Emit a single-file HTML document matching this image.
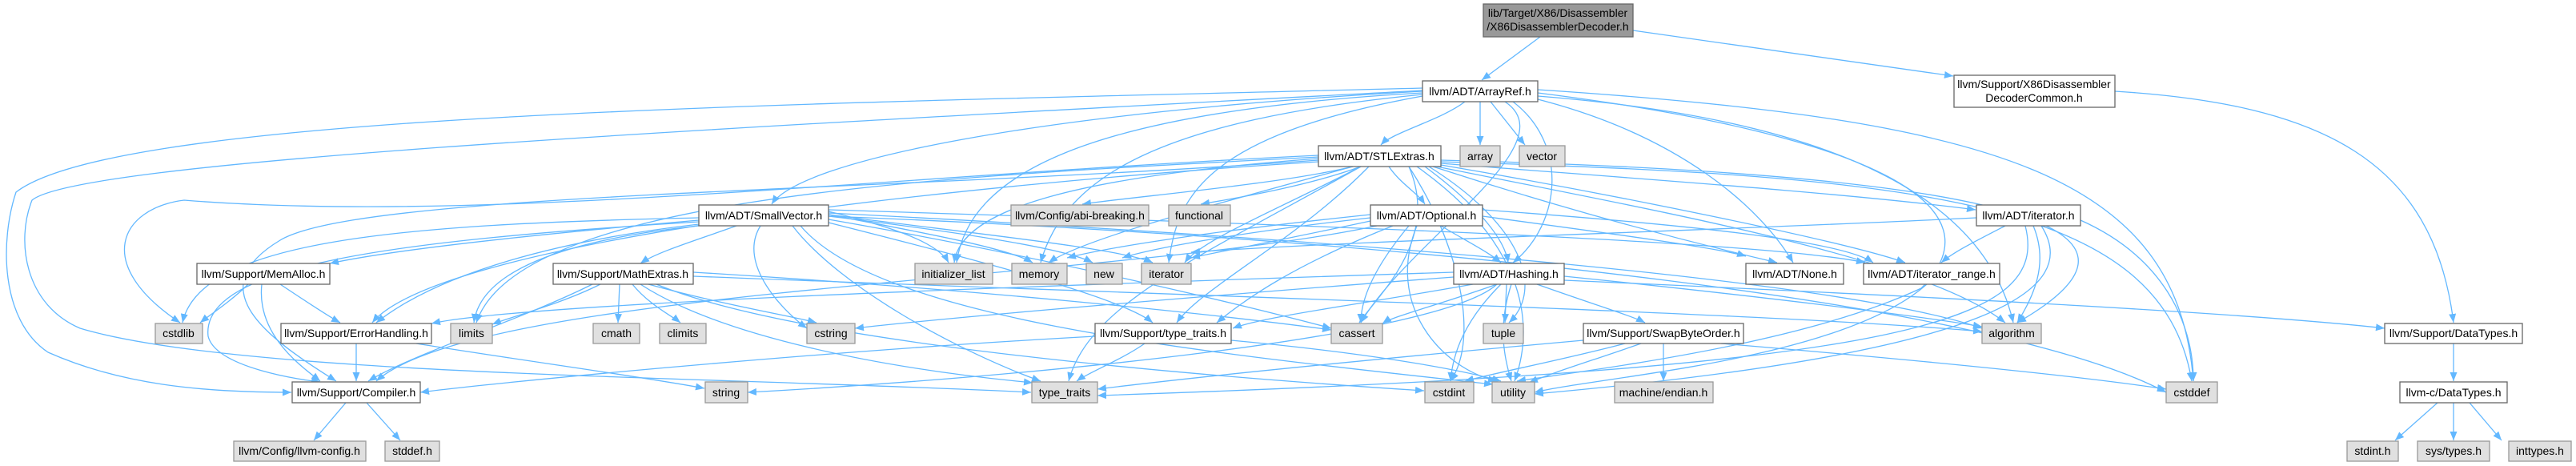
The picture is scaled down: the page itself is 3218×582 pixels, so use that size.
<!DOCTYPE html>
<html><head><meta charset="utf-8"><style>
html,body{margin:0;padding:0;background:#fff;}
svg{display:block;}
text{font-family:"Liberation Sans",Arial,sans-serif;font-size:14px;fill:#000;text-anchor:middle;}
.e{fill:none;stroke:#63b8ff;stroke-width:1.3;marker-end:url(#a);}
.w{fill:#fff;stroke:#666;stroke-width:1.3;}
.g{fill:#e0e0e0;stroke:#999;stroke-width:1.3;}
.r{fill:#999;stroke:#666;stroke-width:1.3;}
</style></head><body>
<svg width="3218" height="582" viewBox="0 0 3218 582" xmlns="http://www.w3.org/2000/svg">
<defs><marker id="a" markerWidth="12" markerHeight="10" refX="11" refY="4.5" orient="auto" markerUnits="userSpaceOnUse"><path d="M0,0 L11,4.5 L0,9 z" fill="#63b8ff"/></marker></defs>
<g>
<!-- root -->
<path class="e" d="M1924,46 L1851,100"/>
<path class="e" d="M2040,38 L2440,95"/>
<path class="e" d="M2642,114 C2900,130 3040,200 3065,403"/>
<!-- ArrayRef -->
<path class="e" d="M1830,127 C1800,150 1740,165 1725,181"/>
<path class="e" d="M1849,127 L1849,181"/>
<path class="e" d="M1862,127 L1905,181"/>
<path class="e" d="M1777,114 C1300,140 1000,200 964,255"/>
<path class="e" d="M1890,127 C1960,180 1950,280 1890,328"/>
<path class="e" d="M1880,127 C1960,180 1760,300 1700,403"/>
<path class="e" d="M1777,118 C1450,150 1330,220 1300,328"/>
<path class="e" d="M1777,116 C1350,140 1210,220 1195,328"/>
<path class="e" d="M1777,120 C1500,170 1470,250 1460,328"/>
<path class="e" d="M1921,120 C2300,150 2480,250 2515,403"/>
<path class="e" d="M1921,124 C2100,170 2200,260 2240,328"/>
<path class="e" d="M1921,112 C2500,150 2720,220 2740,476"/>
<path class="e" d="M1777,110 C1000,130 150,140 20,240 C0,300 0,400 60,440 C150,480 250,490 364,490"/>
<path class="e" d="M1777,113 C900,160 100,200 40,250 C20,300 30,380 100,410 C300,470 900,470 1288,490"/>
<path class="e" d="M1921,116 C2350,170 2500,260 2400,360 C2250,430 2000,460 1895,476"/>
<!-- STLExtras -->
<path class="e" d="M1690,208 C1600,230 1420,245 1352,255"/>
<path class="e" d="M1700,208 C1640,230 1560,245 1500,255"/>
<path class="e" d="M1735,208 C1750,230 1770,240 1780,255"/>
<path class="e" d="M1800,204 C2000,220 2300,240 2468,262"/>
<path class="e" d="M1780,208 C1850,260 1880,300 1884,328"/>
<path class="e" d="M1800,206 C2000,240 2300,300 2380,328"/>
<path class="e" d="M1790,208 C1950,260 2100,300 2220,328"/>
<path class="e" d="M1795,208 C2050,260 2400,320 2505,403"/>
<path class="e" d="M1760,208 C1800,300 1720,370 1698,403"/>
<path class="e" d="M1800,202 C2400,220 2700,250 2738,476"/>
<path class="e" d="M1760,208 C1820,300 1850,420 1812,476"/>
<path class="e" d="M1647,198 C1350,220 1200,260 1192,328"/>
<path class="e" d="M1700,208 C1600,260 1500,300 1480,328"/>
<path class="e" d="M1647,196 C1200,220 650,240 595,403"/>
<path class="e" d="M1690,208 C1500,260 1350,300 1310,328"/>
<path class="e" d="M1785,208 C1900,280 1930,360 1885,403"/>
<path class="e" d="M1700,208 C1500,320 1360,380 1335,476"/>
<path class="e" d="M1770,208 C1900,300 1920,400 1892,476"/>
<path class="e" d="M1710,208 C1620,300 1500,360 1470,403"/>
<path class="e" d="M1647,202 C1200,230 550,300 465,403"/>
<path class="e" d="M1647,194 C1100,220 600,280 230,250 C150,260 115,330 225,403"/>
<path class="e" d="M1647,200 C1100,240 450,240 350,300 C250,360 330,420 420,476"/>
<path class="e" d="M1800,200 C2600,220 2700,300 2520,403"/>
<!-- SmallVector -->
<path class="e" d="M873,275 C700,290 500,310 412,329"/>
<path class="e" d="M920,282 C870,300 820,315 800,329"/>
<path class="e" d="M873,280 C700,300 550,340 470,403"/>
<path class="e" d="M873,277 C500,300 250,330 260,420 C270,460 380,475 400,477"/>
<path class="e" d="M1035,278 C1200,320 1400,370 1440,403"/>
<path class="e" d="M873,272 C500,280 250,300 228,403"/>
<path class="e" d="M873,282 C700,300 600,340 592,403"/>
<path class="e" d="M950,282 C920,330 980,390 1008,410"/>
<path class="e" d="M1035,274 C1300,320 1550,380 1663,410"/>
<path class="e" d="M1035,266 C1700,300 2300,350 2476,410"/>
<path class="e" d="M1035,270 C1800,300 2500,380 2706,490"/>
<path class="e" d="M1035,264 C1100,280 1170,300 1185,328"/>
<path class="e" d="M1035,268 C1200,290 1400,310 1440,328"/>
<path class="e" d="M1035,268 C1150,290 1260,310 1290,328"/>
<path class="e" d="M1035,270 C1200,290 1330,310 1365,328"/>
<path class="e" d="M990,282 C1050,360 1200,440 1300,476"/>
<path class="e" d="M1000,282 C1100,400 1500,440 1865,480"/>
<path class="e" d="M1035,262 C1600,280 2200,300 2330,328"/>
<!-- MathExtras -->
<path class="e" d="M740,355 C650,400 520,440 460,476"/>
<path class="e" d="M774,355 L772,403"/>
<path class="e" d="M790,355 C810,380 840,395 850,403"/>
<path class="e" d="M810,355 C900,380 990,395 1020,403"/>
<path class="e" d="M750,355 C700,380 640,395 615,405"/>
<path class="e" d="M866,340 C1200,360 1500,390 1663,412"/>
<path class="e" d="M866,345 C1500,370 2200,390 2476,414"/>
<path class="e" d="M820,355 C1000,430 1500,470 1779,488"/>
<path class="e" d="M800,355 C900,420 1100,460 1290,478"/>
<!-- MemAlloc -->
<path class="e" d="M310,355 C290,375 260,395 250,403"/>
<path class="e" d="M350,355 C380,375 410,395 425,403"/>
<path class="e" d="M327,355 C320,420 380,460 400,476"/>
<!-- ErrorHandling -->
<path class="e" d="M445,429 L445,476"/>
<path class="e" d="M520,429 C650,450 800,470 880,485"/>
<!-- Compiler -->
<path class="e" d="M432,503 L392,550"/>
<path class="e" d="M458,503 L500,550"/>
<!-- Optional -->
<path class="e" d="M1800,282 C1830,300 1860,315 1875,328"/>
<path class="e" d="M1852,270 C2000,290 2150,310 2181,320"/>
<path class="e" d="M1740,282 C1620,330 1560,370 1520,403"/>
<path class="e" d="M1720,282 C1400,350 600,360 470,476"/>
<path class="e" d="M1760,282 C1720,330 1700,370 1700,403"/>
<path class="e" d="M1712,268 C1500,290 1380,310 1333,322"/>
<path class="e" d="M1712,272 C1550,290 1440,310 1402,322"/>
<path class="e" d="M1712,276 C1600,300 1520,315 1488,322"/>
<path class="e" d="M1770,282 C1730,380 1800,460 1870,476"/>
<path class="e" d="M1852,262 C2100,280 2300,300 2340,328"/>
<!-- Hashing -->
<path class="e" d="M1816,340 C1200,360 650,380 539,404"/>
<path class="e" d="M1954,350 C2400,370 2800,390 2979,410"/>
<path class="e" d="M1920,355 C1990,380 2040,395 2055,403"/>
<path class="e" d="M1840,355 C1700,380 1580,395 1540,410"/>
<path class="e" d="M1954,345 C2200,370 2400,395 2476,408"/>
<path class="e" d="M1870,355 C1800,380 1740,395 1727,404"/>
<path class="e" d="M1816,346 C1500,370 1200,395 1068,410"/>
<path class="e" d="M1870,355 C1800,420 1300,470 934,490"/>
<path class="e" d="M1882,355 L1880,403"/>
<path class="e" d="M1888,355 C1870,410 1880,450 1888,476"/>
<path class="e" d="M1875,355 C1830,400 1815,440 1812,476"/>
<!-- type_traits.h -->
<path class="e" d="M1368,420 C1000,440 600,480 525,490"/>
<path class="e" d="M1430,429 C1400,450 1360,465 1345,476"/>
<path class="e" d="M1538,425 C1700,440 1820,460 1875,476"/>
<!-- SwapByteOrder -->
<path class="e" d="M2150,429 C2400,450 2600,470 2706,486"/>
<path class="e" d="M2030,429 C1950,450 1870,465 1830,476"/>
<path class="e" d="M1978,425 C1700,450 1500,470 1371,486"/>
<path class="e" d="M2078,429 L2078,476"/>
<path class="e" d="M2050,429 C1990,450 1940,465 1910,478"/>
<!-- iterator.h -->
<path class="e" d="M2505,282 C2470,300 2440,315 2425,328"/>
<path class="e" d="M2469,272 C2100,290 1700,300 1488,315"/>
<path class="e" d="M2540,282 C2560,330 2540,370 2520,403"/>
<path class="e" d="M2599,275 C2700,320 2740,400 2740,476"/>
<path class="e" d="M2530,282 C2560,400 2400,460 1371,494"/>
<path class="e" d="M2550,282 C2600,360 2500,440 1917,492"/>
<!-- iterator_range -->
<path class="e" d="M2407,355 C2300,450 2000,470 1917,490"/>
<!-- DataTypes -->
<path class="e" d="M3065,429 L3065,476"/>
<path class="e" d="M3045,503 L2992,550"/>
<path class="e" d="M3065,503 L3065,550"/>
<path class="e" d="M3085,503 L3125,550"/>
</g>
<!-- nodes -->
<rect class="r" x="1853" y="5" width="187" height="41"/><text x="1946" y="21">lib/Target/X86/Disassembler</text><text x="1946" y="38">/X86DisassemblerDecoder.h</text>
<rect class="w" x="1777" y="101" width="144" height="26"/><text x="1849" y="119">llvm/ADT/ArrayRef.h</text>
<rect class="w" x="2441" y="94" width="201" height="40"/><text x="2541" y="110">llvm/Support/X86Disassembler</text><text x="2541" y="127">DecoderCommon.h</text>
<rect class="w" x="1647" y="182" width="153" height="26"/><text x="1723" y="200">llvm/ADT/STLExtras.h</text>
<rect class="g" x="1824" y="182" width="50" height="26"/><text x="1849" y="200">array</text>
<rect class="g" x="1898" y="182" width="57" height="26"/><text x="1926" y="200">vector</text>
<rect class="w" x="873" y="256" width="162" height="26"/><text x="954" y="274">llvm/ADT/SmallVector.h</text>
<rect class="g" x="1263" y="256" width="172" height="26"/><text x="1349" y="274">llvm/Config/abi-breaking.h</text>
<rect class="g" x="1460" y="256" width="77" height="26"/><text x="1498" y="274">functional</text>
<rect class="w" x="1712" y="256" width="140" height="26"/><text x="1782" y="274">llvm/ADT/Optional.h</text>
<rect class="w" x="2469" y="256" width="130" height="26"/><text x="2534" y="274">llvm/ADT/iterator.h</text>
<rect class="w" x="246" y="329" width="166" height="26"/><text x="329" y="347">llvm/Support/MemAlloc.h</text>
<rect class="w" x="691" y="329" width="175" height="26"/><text x="778" y="347">llvm/Support/MathExtras.h</text>
<rect class="g" x="1143" y="329" width="97" height="26"/><text x="1191" y="347">initializer_list</text>
<rect class="g" x="1264" y="329" width="69" height="26"/><text x="1298" y="347">memory</text>
<rect class="g" x="1357" y="329" width="45" height="26"/><text x="1379" y="347">new</text>
<rect class="g" x="1426" y="329" width="62" height="26"/><text x="1457" y="347">iterator</text>
<rect class="w" x="1816" y="329" width="138" height="26"/><text x="1885" y="347">llvm/ADT/Hashing.h</text>
<rect class="w" x="2181" y="329" width="122" height="26"/><text x="2242" y="347">llvm/ADT/None.h</text>
<rect class="w" x="2328" y="329" width="170" height="26"/><text x="2413" y="347">llvm/ADT/iterator_range.h</text>
<rect class="g" x="194" y="404" width="59" height="25"/><text x="223" y="421">cstdlib</text>
<rect class="w" x="351" y="404" width="188" height="25"/><text x="445" y="421">llvm/Support/ErrorHandling.h</text>
<rect class="g" x="563" y="404" width="52" height="25"/><text x="589" y="421">limits</text>
<rect class="g" x="741" y="404" width="58" height="25"/><text x="770" y="421">cmath</text>
<rect class="g" x="824" y="404" width="58" height="25"/><text x="853" y="421">climits</text>
<rect class="g" x="1008" y="404" width="60" height="25"/><text x="1038" y="421">cstring</text>
<rect class="w" x="1368" y="404" width="170" height="25"/><text x="1453" y="421">llvm/Support/type_traits.h</text>
<rect class="g" x="1663" y="404" width="64" height="25"/><text x="1695" y="421">cassert</text>
<rect class="g" x="1853" y="404" width="50" height="25"/><text x="1878" y="421">tuple</text>
<rect class="w" x="1978" y="404" width="200" height="25"/><text x="2078" y="421">llvm/Support/SwapByteOrder.h</text>
<rect class="g" x="2476" y="404" width="74" height="25"/><text x="2513" y="421">algorithm</text>
<rect class="w" x="2979" y="404" width="172" height="25"/><text x="3065" y="421">llvm/Support/DataTypes.h</text>
<rect class="w" x="365" y="477" width="160" height="26"/><text x="445" y="495">llvm/Support/Compiler.h</text>
<rect class="g" x="881" y="477" width="53" height="26"/><text x="907" y="495">string</text>
<rect class="g" x="1289" y="477" width="82" height="26"/><text x="1330" y="495">type_traits</text>
<rect class="g" x="1780" y="477" width="61" height="26"/><text x="1810" y="495">cstdint</text>
<rect class="g" x="1864" y="477" width="53" height="26"/><text x="1890" y="495">utility</text>
<rect class="g" x="2017" y="477" width="123" height="26"/><text x="2078" y="495">machine/endian.h</text>
<rect class="g" x="2706" y="477" width="64" height="26"/><text x="2738" y="495">cstddef</text>
<rect class="w" x="2998" y="477" width="134" height="26"/><text x="3065" y="495">llvm-c/DataTypes.h</text>
<rect class="g" x="292" y="551" width="165" height="25"/><text x="374" y="568">llvm/Config/llvm-config.h</text>
<rect class="g" x="481" y="551" width="68" height="25"/><text x="515" y="568">stddef.h</text>
<rect class="g" x="2932" y="551" width="64" height="25"/><text x="2964" y="568">stdint.h</text>
<rect class="g" x="3020" y="551" width="90" height="25"/><text x="3065" y="568">sys/types.h</text>
<rect class="g" x="3134" y="551" width="78" height="25"/><text x="3173" y="568">inttypes.h</text>
</svg>
</body></html>
